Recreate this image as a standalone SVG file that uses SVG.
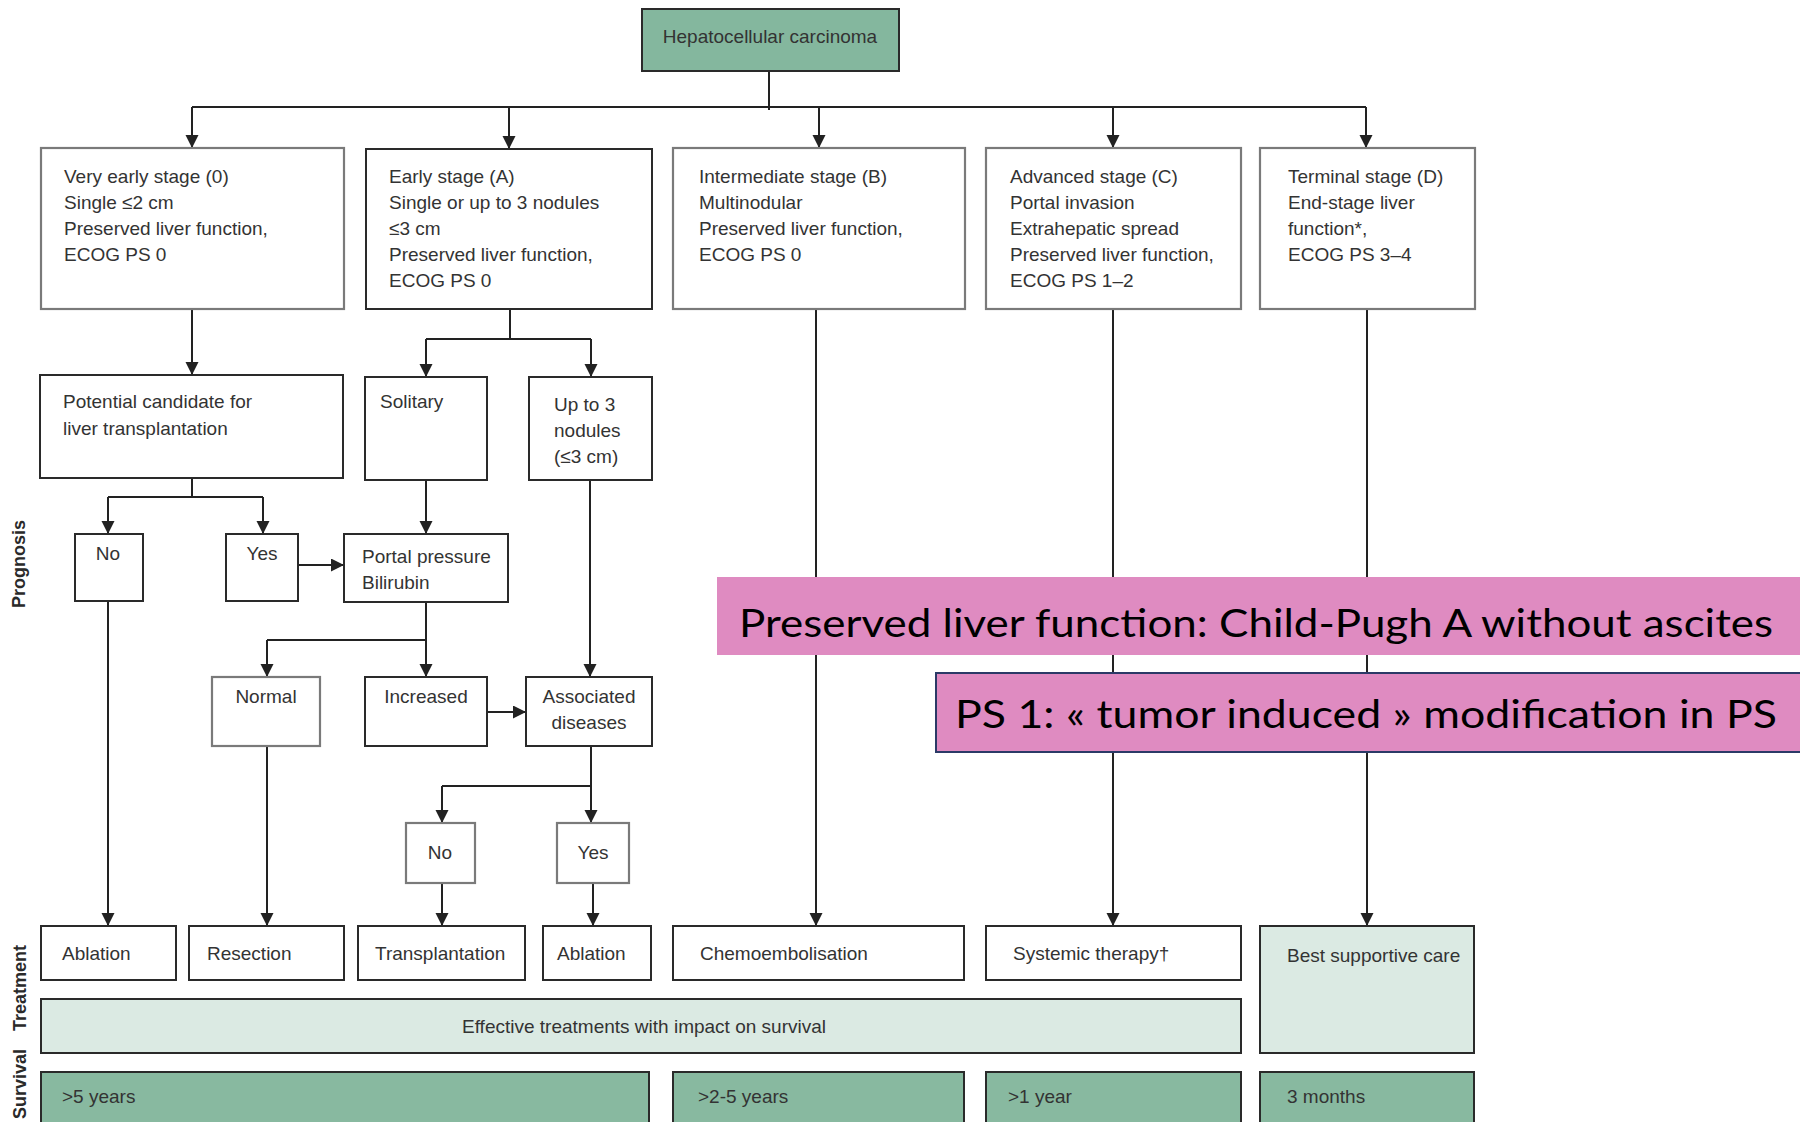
<svg xmlns="http://www.w3.org/2000/svg" width="1800" height="1122" viewBox="0 0 1800 1122">
<defs>
<style>
.box{fill:#ffffff;stroke:#2a2a2a;stroke-width:2}
.gbox{fill:#ffffff;stroke:#7a7a7a;stroke-width:2.2}
.hcc{fill:#84b79e;stroke:#2a2a2a;stroke-width:2}
.light{fill:#dbeae3;stroke:#2a2a2a;stroke-width:2}
.surv{fill:#88b9a0;stroke:#2a2a2a;stroke-width:2}
.t{font-family:"Liberation Sans",Arial,sans-serif;font-size:19px;fill:#333333}
.c{text-anchor:middle}
.side{font-family:"Liberation Sans",Arial,sans-serif;font-size:18px;font-weight:bold;fill:#2a2a2a;text-anchor:middle}
.conn path{fill:none;stroke:#222222;stroke-width:2}
.pink{fill:#df8bc1}
.ov{font-family:Lato,"Open Sans",sans-serif;font-size:38px;fill:#000000}
</style>
<marker id="ah" markerUnits="userSpaceOnUse" markerWidth="14" markerHeight="14" refX="13" refY="6.5" orient="auto">
<path d="M0,0 L13,6.5 L0,13 z" fill="#222222"/>
</marker>
</defs>
<rect x="0" y="0" width="1800" height="1122" fill="#ffffff"/>

<!-- side labels -->
<text class="side" transform="translate(25,564) rotate(-90)">Prognosis</text>
<text class="side" transform="translate(26,988) rotate(-90)">Treatment</text>
<text class="side" transform="translate(26,1084) rotate(-90)">Survival</text>

<!-- connectors -->
<g id="connectors" class="conn">
<path d="M769,71 V110"/>
<path d="M192,107 H1366"/>
<path d="M192,107 V148" marker-end="url(#ah)"/>
<path d="M509,107 V149" marker-end="url(#ah)"/>
<path d="M819,107 V148" marker-end="url(#ah)"/>
<path d="M1113,107 V148" marker-end="url(#ah)"/>
<path d="M1366,107 V148" marker-end="url(#ah)"/>
<path d="M192,309 V375" marker-end="url(#ah)"/>
<path d="M510,309 V339 M426,339 H591"/>
<path d="M426,339 V377" marker-end="url(#ah)"/>
<path d="M591,339 V377" marker-end="url(#ah)"/>
<path d="M192,478 V497 M108,497 H263"/>
<path d="M108,497 V534" marker-end="url(#ah)"/>
<path d="M263,497 V534" marker-end="url(#ah)"/>
<path d="M298,565 H344" marker-end="url(#ah)"/>
<path d="M426,480 V534" marker-end="url(#ah)"/>
<path d="M426,602 V640 M267,640 H426"/>
<path d="M267,640 V677" marker-end="url(#ah)"/>
<path d="M426,640 V677" marker-end="url(#ah)"/>
<path d="M590,480 V677" marker-end="url(#ah)"/>
<path d="M487,712 H526" marker-end="url(#ah)"/>
<path d="M591,746 V786 M442,786 H591"/>
<path d="M442,786 V823" marker-end="url(#ah)"/>
<path d="M591,786 V823" marker-end="url(#ah)"/>
<path d="M442,883 V926" marker-end="url(#ah)"/>
<path d="M593,883 V926" marker-end="url(#ah)"/>
<path d="M108,601 V926" marker-end="url(#ah)"/>
<path d="M267,746 V926" marker-end="url(#ah)"/>
<path d="M816,309 V926" marker-end="url(#ah)"/>
<path d="M1113,309 V926" marker-end="url(#ah)"/>
<path d="M1367,309 V926" marker-end="url(#ah)"/>
</g>

<!-- top -->
<g id="hcc">
<rect class="hcc" x="642" y="9" width="257" height="62"/>
<text class="t c" x="770" y="43" fill="#2d4a3c">Hepatocellular carcinoma</text>
</g>

<!-- stages -->
<g id="stage0">
<rect class="gbox" x="41" y="148" width="303" height="161"/>
<text class="t" x="64" y="183">Very early stage (0)</text>
<text class="t" x="64" y="209">Single ≤2 cm</text>
<text class="t" x="64" y="235">Preserved liver function,</text>
<text class="t" x="64" y="261">ECOG PS 0</text>
</g>
<g id="stageA">
<rect class="box" x="366" y="149" width="286" height="160"/>
<text class="t" x="389" y="183">Early stage (A)</text>
<text class="t" x="389" y="209">Single or up to 3 nodules</text>
<text class="t" x="389" y="235">≤3 cm</text>
<text class="t" x="389" y="261">Preserved liver function,</text>
<text class="t" x="389" y="287">ECOG PS 0</text>
</g>
<g id="stageB">
<rect class="gbox" x="673" y="148" width="292" height="161"/>
<text class="t" x="699" y="183">Intermediate stage (B)</text>
<text class="t" x="699" y="209">Multinodular</text>
<text class="t" x="699" y="235">Preserved liver function,</text>
<text class="t" x="699" y="261">ECOG PS 0</text>
</g>
<g id="stageC">
<rect class="gbox" x="986" y="148" width="255" height="161"/>
<text class="t" x="1010" y="183">Advanced stage (C)</text>
<text class="t" x="1010" y="209">Portal invasion</text>
<text class="t" x="1010" y="235">Extrahepatic spread</text>
<text class="t" x="1010" y="261">Preserved liver function,</text>
<text class="t" x="1010" y="287">ECOG PS 1–2</text>
</g>
<g id="stageD">
<rect class="gbox" x="1260" y="148" width="215" height="161"/>
<text class="t" x="1288" y="183">Terminal stage (D)</text>
<text class="t" x="1288" y="209">End-stage liver</text>
<text class="t" x="1288" y="235">function*,</text>
<text class="t" x="1288" y="261">ECOG PS 3–4</text>
</g>

<!-- prognosis level -->
<g id="candidate">
<rect class="box" x="40" y="375" width="303" height="103"/>
<text class="t" x="63" y="408">Potential candidate for</text>
<text class="t" x="63" y="435">liver transplantation</text>
</g>
<g id="solitary">
<rect class="box" x="365" y="377" width="122" height="103"/>
<text class="t" x="380" y="408">Solitary</text>
</g>
<g id="upto3">
<rect class="box" x="529" y="377" width="123" height="103"/>
<text class="t" x="554" y="411">Up to 3</text>
<text class="t" x="554" y="437">nodules</text>
<text class="t" x="554" y="463">(≤3 cm)</text>
</g>
<g id="no1">
<rect class="box" x="75" y="534" width="68" height="67"/>
<text class="t c" x="108" y="560">No</text>
</g>
<g id="yes1">
<rect class="box" x="226" y="534" width="72" height="67"/>
<text class="t c" x="262" y="560">Yes</text>
</g>
<g id="portal">
<rect class="box" x="344" y="534" width="164" height="68"/>
<text class="t" x="362" y="563">Portal pressure</text>
<text class="t" x="362" y="589">Bilirubin</text>
</g>
<g id="normal">
<rect class="gbox" x="212" y="677" width="108" height="69"/>
<text class="t c" x="266" y="703">Normal</text>
</g>
<g id="increased">
<rect class="box" x="365" y="677" width="122" height="69"/>
<text class="t c" x="426" y="703">Increased</text>
</g>
<g id="associated">
<rect class="box" x="526" y="677" width="126" height="69"/>
<text class="t c" x="589" y="703">Associated</text>
<text class="t c" x="589" y="729">diseases</text>
</g>
<g id="no2">
<rect class="gbox" x="406" y="823" width="69" height="60"/>
<text class="t c" x="440" y="859">No</text>
</g>
<g id="yes2">
<rect class="gbox" x="557" y="823" width="72" height="60"/>
<text class="t c" x="593" y="859">Yes</text>
</g>

<!-- treatment level -->
<g id="ablation1">
<rect class="box" x="41" y="926" width="135" height="54"/>
<text class="t" x="62" y="960">Ablation</text>
</g>
<g id="resection">
<rect class="box" x="189" y="926" width="155" height="54"/>
<text class="t" x="207" y="960">Resection</text>
</g>
<g id="transplantation">
<rect class="box" x="358" y="926" width="167" height="54"/>
<text class="t" x="375" y="960">Transplantation</text>
</g>
<g id="ablation2">
<rect class="box" x="543" y="926" width="108" height="54"/>
<text class="t" x="557" y="960">Ablation</text>
</g>
<g id="chemo">
<rect class="box" x="673" y="926" width="291" height="54"/>
<text class="t" x="700" y="960">Chemoembolisation</text>
</g>
<g id="systemic">
<rect class="box" x="986" y="926" width="255" height="54"/>
<text class="t" x="1013" y="960">Systemic therapy†</text>
</g>
<g id="bsc">
<rect class="light" x="1260" y="926" width="214" height="127"/>
<text class="t" x="1287" y="962">Best supportive care</text>
</g>
<g id="effective">
<rect class="light" x="41" y="999" width="1200" height="54"/>
<text class="t c" x="644" y="1033">Effective treatments with impact on survival</text>
</g>

<!-- survival -->
<g id="surv1">
<rect class="surv" x="41" y="1072" width="608" height="70"/>
<text class="t" x="62" y="1103">&gt;5 years</text>
</g>
<g id="surv2">
<rect class="surv" x="673" y="1072" width="291" height="70"/>
<text class="t" x="698" y="1103">&gt;2-5 years</text>
</g>
<g id="surv3">
<rect class="surv" x="986" y="1072" width="255" height="70"/>
<text class="t" x="1008" y="1103">&gt;1 year</text>
</g>
<g id="surv4">
<rect class="surv" x="1260" y="1072" width="214" height="70"/>
<text class="t" x="1287" y="1103">3 months</text>
</g>

<!-- overlays -->
<g id="note1">
<rect class="pink" x="717" y="577" width="1090" height="78"/>
<text class="ov" x="739" y="637" textLength="1034" lengthAdjust="spacingAndGlyphs">Preserved liver function: Child-Pugh A without ascites</text>
</g>
<g id="note2">
<rect class="pink" x="936" y="673" width="870" height="79" stroke="#2b3a67" stroke-width="2"/>
<text class="ov" x="955" y="728" textLength="822" lengthAdjust="spacingAndGlyphs">PS 1: « tumor induced » modification in PS</text>
</g>
</svg>
